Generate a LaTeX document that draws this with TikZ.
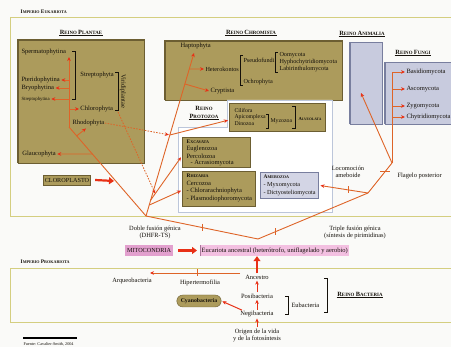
\documentclass[tikz,border=0pt]{standalone}
\usepackage{fontspec}
\setmainfont{Liberation Serif}
\usetikzlibrary{arrows.meta,shapes.geometric,calc}
\definecolor{bgc}{RGB}{250,250,248}
\definecolor{frm}{RGB}{212,206,128}
\definecolor{oliv}{RGB}{172,155,92}
\definecolor{olivD}{RGB}{108,94,50}
\definecolor{lav}{RGB}{200,203,222}
\definecolor{lavD}{RGB}{120,126,158}
\definecolor{pzb}{RGB}{188,198,218}
\definecolor{lnc}{RGB}{222,100,40}
\definecolor{arc}{RGB}{232,48,22}
\definecolor{pnk}{RGB}{226,160,206}
\definecolor{pnkL}{RGB}{243,192,225}
\definecolor{txt}{RGB}{20,16,10}
\newcommand\fsz[1]{\fontsize{#1}{#1}\selectfont}
\newcommand\SCa[2]{{\fsz{6.4}#1\fsz{4.9}#2}}
\newcommand\SCb[2]{{\fsz{5.4}#1\fsz{4.1}#2}}
\begin{document}
\begin{tikzpicture}[x=1pt,y=-1pt,
 t/.style={font=\fsz{6.5}, text=txt, inner sep=0.3pt, anchor=west},
 tc/.style={t, anchor=center, align=center, font=\fontsize{6.4}{7}\selectfont},
 hdr/.style={font=\bfseries\fsz{5}, text=txt, inner sep=0.5pt},
 obox/.style={fill=oliv, draw=olivD, line width=0.5pt, anchor=north west, inner sep=0},
 lbox/.style={fill=lav, draw=lavD, line width=0.5pt, anchor=north west, inner sep=0},
 frame/.style={draw=frm, line width=1pt},
 ln/.style={draw=lnc, line width=0.9pt},
 arr/.style={ln, -{Stealth[length=4pt,width=3.6pt,color=arc]}},
 rarr/.style={draw=arc, line width=1pt, -{Stealth[length=4pt,width=3.6pt]}, shorten <=1pt, shorten >=1pt},
 darr/.style={draw=lnc, line width=0.8pt, dash pattern=on 1.6pt off 1.3pt, -{Stealth[length=4pt,width=3.6pt,color=arc]}},
 tarr/.style={draw=arc, line width=2.2pt, -{Triangle[length=5pt,width=7pt]}},
 brk/.style={draw=txt, line width=0.5pt},
 uline/.style={draw=txt, line width=0.4pt},
]
\useasboundingbox (0,0) rectangle (451,347);
\fill[bgc] (0,0) rectangle (451,347);
\draw[frame] (451,18) -- (10,18) -- (10,217) -- (451,217);
\draw[frame] (451,269) -- (10,269) -- (10,323) -- (451,323);
\node[hdr, anchor=west] (ieuk) at (20,12) {\SCb{I}{MPERIO} \SCb{E}{UKARIOTA}};
\node[hdr, anchor=west] (ipro) at (20,262) {\SCb{I}{MPERIO} \SCb{P}{ROKARIOTA}};

% boxes
\node[obox, minimum width=126, minimum height=123] (pbox) at (18,40) {};
\draw[olivD, line width=1.6pt] (pbox.south west) -- (pbox.north west) -- (pbox.north east);
\node[obox, minimum width=177, minimum height=59] (cbox) at (165,41) {};
\draw[olivD, line width=1.6pt] (cbox.south west) -- (cbox.north west) -- (cbox.north east);
\node[lbox, minimum width=32, minimum height=82] (abox) at (350,42) {};
\draw[lavD, line width=1.6pt] (abox.south west) -- (abox.north west);
\node[lbox, minimum width=70, minimum height=62] (fbox) at (385,62) {};
\draw[lavD, line width=1.6pt] (fbox.south west) -- (fbox.north west);
\draw[draw=pzb, fill=white, line width=0.8pt] (227,100) -- (332,100) -- (332,212) -- (178,212) -- (178,127) -- (227,127) -- cycle;
\node[obox, minimum width=96, minimum height=28] (alvbox) at (229,103) {};
\node[obox, minimum width=68, minimum height=30] (excbox) at (182,137) {};
\node[obox, minimum width=73, minimum height=35] (rhibox) at (182,171) {};
\node[lbox, minimum width=58, minimum height=26, fill=lav!80!white] (amebox) at (260,172) {};

% headers
\node[hdr] (hpl) at (81,32) {\SCa{R}{EINO} \SCa{P}{LANTAE}};
\node[hdr] (hch) at (251,32) {\SCa{R}{EINO} \SCa{C}{HROMISTA}};
\node[hdr] (han) at (362,33) {\SCa{R}{EINO} \SCa{A}{NIMALIA}};
\node[hdr] (hfu) at (413,52) {\SCa{R}{EINO} \SCa{F}{UNGI}};
\node[hdr] (hpr1) at (204,108) {\SCa{R}{EINO}};
\node[hdr] (hpr2) at (204,116) {\SCa{P}{ROTOZOA}};
\node[hdr] (hba) at (360,294) {\SCa{R}{EINO} \SCa{B}{ACTERIA}};
\foreach \n in {hpl,hch,han,hfu,hpr2,hba} \draw[uline] (\n.south west) -- (\n.south east);

% Plantae
\node[t] (sperm) at (21,52) {Spermatophytina};
\node[t] (pter) at (21,80) {Pteridophytina};
\node[t] (bryo) at (21,88) {Bryophytina};
\node[t, font=\fsz{4.8}] (strp) at (21,99) {Streptophytina};
\node[t] (strep) at (80,75) {Streptophyta};
\node[t] (chl) at (80,109) {Chlorophyta};
\node[t] (rho) at (72,123) {Rhodophyta};
\node[t] (gla) at (22,154) {Glaucophyta};
\node[t, rotate=-90, anchor=center] (viri) at (123,91) {Viridiplantae};
\draw[brk] (72,51) -| (75,99) -- (72,99);
\draw[brk] (115,72) -| (118,110) -- (115,110);
\coordinate (J) at (146,216);
\coordinate (P1) at (69,127);
\coordinate (Ptop) at (69,57);
\draw[ln] (J) -- (P1);
\draw[arr] (P1) -- (Ptop);
\draw[arr] (P1 |- pter.east) -- ([xshift=1pt]pter.east);
\draw[arr] (P1 |- bryo.east) -- ([xshift=1pt]bryo.east);
\draw[arr] (P1 |- strp.east) -- ([xshift=1pt]strp.east);
\draw[arr] (P1 |- chl.west) -- ([xshift=-1pt]chl.west);
\coordinate (rhoT) at ($(rho.south west)+(14,2)$);
\draw[arr] ($(P1)!0.1!(J)$) -- (rhoT);
\draw[arr] ($(P1)!0.303!(J)$) -- ([xshift=1pt]gla.east);
\node[fill=oliv, draw=olivD, line width=0.8pt, font=\fsz{6.2}, text=txt, inner sep=1.5pt, minimum height=10] (clo) at (67,180) {CLOROPLASTO};
\coordinate (cloT) at (114,181);
\draw[tarr] ([xshift=4pt]clo.east) -- (cloT);

% Chromista
\coordinate (H) at (194,53);
\draw[arr] (J) -- (H);
\node[t] (hap) at (180,46) {Haptophyta};
\node[t, font=\fsz{6.2}] (het) at (205,69) {Heterokontos};
\node[t, font=\fsz{6.2}] (pse) at (243,60) {Pseudofundi};
\node[t, font=\fsz{6.2}] (och) at (243,82) {Ochrophyta};
\node[t, font=\fsz{6.2}] (oom) at (279,55) {Oomycota};
\node[t, font=\fsz{6.2}] (hyp) at (279,62) {Hyphochytridiomycota};
\node[t, font=\fsz{6.2}] (lab) at (279,69) {Labirinthulomycota};
\node[t] (cry) at (210,91) {Cryptista};
\draw[brk] (243,55) -| (240,85) -- (243,85);
\draw[brk] (278,52) -| (275,72) -- (278,72);
\draw[arr] ($(J)!0.902!(H)$) -- ([xshift=-1pt]het.west);
\draw[arr] ($(J)!0.81!(H)$) -- ([xshift=-1pt]cry.west);
\coordinate (A1) at ($(J)!0.497!(H)$);
\draw[arr] (A1) -- ($(alvbox.west)+(-1,3)$);
\coordinate (E1) at ($(J)!0.098!(H)$);
\coordinate (E2) at ($(excbox.west)+(-1,5)$);
\draw[arr] (E1) -- (E2);
\draw[arr] ($(J)!0.067!(H)$) -- ($(rhibox.west)+(-1,2)$);
\coordinate (vb) at (118,112);
\draw[darr, shorten >=1pt] (rho.east) -- (A1);
\draw[darr] (vb) -- ($(E1)!0.15!(E2)$);

% Protozoa contents
\node[t, font=\fsz{5.8}] (cil) at (234,110) {Cilifora};
\node[t, font=\fsz{5.8}] (api) at (234,117) {Apicomplexa};
\node[t, font=\fsz{5.8}] (din) at (234,124) {Dinozoa};
\draw[brk] (266,114) -| (268,128) -- (266,128);
\node[t, font=\fsz{5.8}] (myz) at (270,121) {Myzozoa};
\draw[brk] (292,106) -| (295,128) -- (292,128);
\node[hdr, anchor=west] (alvh) at (298,119) {{\fsz{4.6}A\fsz{3.6}LVEOLATA}};
\node[hdr, anchor=west] (exh) at (186,142) {\SCb{E}{XCAVATA}};
\node[t] (eug) at (186,149) {Euglenozoa};
\node[t] (per) at (186,156) {Percolozoa};
\node[t] (acr) at (190,163) {- Acrasiomycota};
\node[hdr, anchor=west] (rhh) at (186,176) {\SCb{R}{HIZARIA}};
\node[t] (cer) at (186,183) {Cercozoa};
\node[t] (chla) at (186,191) {- Chlorarachniophyta};
\node[t] (plas) at (186,199) {- Plasmodiophoromycota};
\node[hdr, anchor=west] (amh) at (263,177) {\SCb{A}{MEBOZOA}};
\node[t, font=\fsz{6.2}] (myx) at (263,185) {- Myxomycota};
\node[t, font=\fsz{6.2}] (dic) at (263,193) {- Dictyosteliomycota};

% Fungi / Animalia
\node[t] (basi) at (406,72) {Basidiomycota};
\node[t] (asco) at (406,89) {Ascomycota};
\node[t] (zygo) at (406,106) {Zygomycota};
\node[t] (chy) at (406,117) {Chytridiomycota};
\coordinate (G) at (392,163);
\draw[ln] (G) -- (G |- basi.west);
\foreach \f in {basi,asco,zygo,chy} \draw[arr] (G |- \f.west) -- ([xshift=-1pt]\f.west);
\coordinate (An) at (361,93);
\draw[arr] (G) -- (An);

% root
\coordinate (R) at (258,239);
\coordinate (F) at (368,193);
\draw[ln] (J) -- coordinate[pos=0.5] (tk1) (R);
\draw[ln] (R) -- coordinate[pos=0.16] (tk2) (F);
\draw[ln] (F) -- coordinate[pos=0.72] (tk3) (G);
\draw[arr, shorten >=2pt] (F) -- coordinate[pos=0.4] (tk4) (amebox.east);
\foreach \k in {tk1,tk2,tk4} \draw[ln] ($(\k)+(0,-3.5)$) -- ($(\k)+(0,3.5)$);
\draw[ln] ($(tk3)+(-5,0)$) -- ($(tk3)+(5,0)$);
\node[tc] (dob) at (155,232.5) {Doble fusión génica\\(DHFR-TS)};
\node[tc] (tri) at (355,232.5) {Triple fusión génica\\(síntesis de pirimidinas)};
\node[tc] (loc) at (348,172) {Locomoción\\ameboide};
\node[t] (fla) at (397,176) {Flagelo posterior};

% mitochondria
\node[fill=pnk, text=txt, font=\fsz{6.2}, minimum width=48, minimum height=11, inner sep=1] (mit) at (149,250.5) {MITOCONDRIA};
\node[fill=pnkL, text=txt, font=\fsz{6.5}, minimum height=11, inner sep=1.5, anchor=west] (euc) at (200,250.5) {Eucariota ancestral (heterótrofo, uniflagelado y aerobio)};
\draw[pnk!75!black, line width=1pt] (euc.south west) -- (euc.north west);
\draw[tarr] ([xshift=5pt]mit.east) -- ([xshift=-3pt]euc.west);

% bacteria
\node[t, anchor=center] (anc) at (257,277) {Ancestro};
\node[t, anchor=center] (posi) at (257,296) {Posibacteria};
\node[t, anchor=center] (negi) at (257,314) {Negibacteria};
\node[tc] (orig) at (257,335) {Origen de la vida\\y de la fotosíntesis};
\draw[tarr] ($(anc.north)+(0,-1)$) -- (anc.north |- euc.south);
\draw[rarr] (posi.north) -- (anc.south);
\draw[rarr] (negi.north) -- (posi.south);
\draw[rarr] (orig.north) -- (negi.south);
\draw[brk] (285,296) -| (288,314) -- (285,314);
\node[t] (eub) at (291,305) {Eubacteria};
\draw[brk] (324,278) -| (327,312) -- (324,312);
\coordinate (hS) at (240,273);
\coordinate (arqT) at (150,273);
\draw[arr] (hS) -- coordinate[pos=0.47] (tk5) (arqT);
\draw[ln] ($(tk5)+(0,-3.5)$) -- ($(tk5)+(0,3.5)$);
\node[tc] (arq) at (132,281) {Arqueobacteria};
\node[tc] (hip) at (200,283) {Hipertermofilia};
\node[fill=oliv, draw=olivD, line width=0.4pt, rounded corners=6pt, font=\bfseries\fsz{5.8}, text=txt, minimum height=12, inner xsep=4pt, inner ysep=0.5pt] (cyan) at (199,301) {Cyanobacteria};
\draw[rarr] ($(negi.north west)+(3,0)$) -- (cyan.east);

% source
\draw[black, line width=1.3pt] (23,338) -- (77,338);
\node[t, font=\fsz{4.2}] (fuente) at (23,344) {Fuente: Cavalier-Smith, 2004};
\end{tikzpicture}
\end{document}
